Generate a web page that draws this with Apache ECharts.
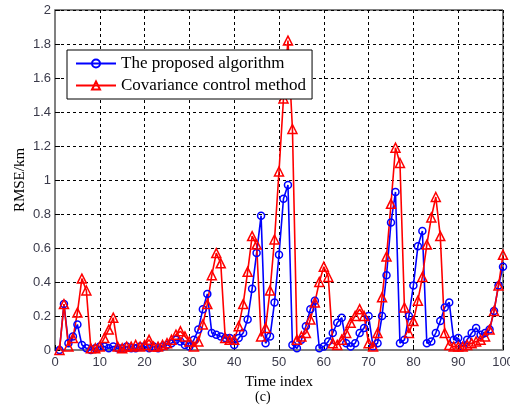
<!DOCTYPE html>
<html>
<head>
<meta charset="utf-8">
<script src="https://cdn.jsdelivr.net/npm/echarts@6/dist/echarts.min.js"></script>
<style>
html,body{margin:0;padding:0;background:#fff;}
#chart{width:510px;height:414px;}
</style>
</head>
<body>
<div id="chart"></div>
<script>
var timeIndex = [1,2,3,4,5,6,7,8,9,10,11,12,13,14,15,16,17,18,19,20,21,22,23,24,25,26,27,28,29,30,31,32,33,34,35,36,37,38,39,40,41,42,43,44,45,46,47,48,49,50,51,52,53,54,55,56,57,58,59,60,61,62,63,64,65,66,67,68,69,70,71,72,73,74,75,76,77,78,79,80,81,82,83,84,85,86,87,88,89,90,91,92,93,94,95,96,97,98,99,100];

var proposed = [0.00,0.27,0.04,0.08,0.15,0.03,0.01,0.00,0.01,0.02,
0.02,0.01,0.02,0.01,0.01,0.02,0.01,0.01,0.02,0.02,
0.01,0.02,0.01,0.02,0.03,0.04,0.06,0.05,0.03,0.02,
0.06,0.12,0.24,0.33,0.10,0.09,0.08,0.07,0.07,0.03,
0.07,0.10,0.18,0.36,0.57,0.79,0.04,0.08,0.28,0.56,
0.89,0.97,0.03,0.01,0.06,0.14,0.24,0.29,0.01,0.02,
0.05,0.10,0.16,0.19,0.04,0.02,0.04,0.10,0.13,0.20,
0.02,0.04,0.20,0.44,0.75,0.93,0.04,0.06,0.20,0.38,
0.61,0.70,0.04,0.05,0.10,0.17,0.25,0.28,0.06,0.07,
0.02,0.06,0.10,0.13,0.09,0.10,0.12,0.23,0.38,0.49];

var covariance = [0.00,0.27,0.02,0.07,0.22,0.42,0.35,0.01,0.01,0.02,
0.07,0.12,0.19,0.02,0.01,0.02,0.02,0.03,0.02,0.03,
0.06,0.02,0.02,0.03,0.04,0.06,0.09,0.11,0.08,0.05,
0.02,0.05,0.15,0.27,0.44,0.57,0.51,0.07,0.06,0.06,
0.14,0.27,0.46,0.67,0.62,0.08,0.13,0.35,0.65,1.05,
1.48,1.82,1.30,0.06,0.08,0.10,0.18,0.28,0.40,0.49,
0.43,0.04,0.03,0.06,0.10,0.16,0.20,0.24,0.20,0.04,
0.02,0.10,0.31,0.55,0.86,1.19,1.10,0.25,0.10,0.17,
0.29,0.43,0.62,0.78,0.90,0.67,0.10,0.03,0.02,0.02,
0.02,0.03,0.04,0.05,0.06,0.08,0.12,0.23,0.38,0.56];

var seriesNames = ['The proposed algorithm', 'Covariance control method'];
var xTicks = [0,10,20,30,40,50,60,70,80,90,100];
var yTicks = [0,0.2,0.4,0.6,0.8,1,1.2,1.4,1.6,1.8,2];

function pairs(xs, ys){ return xs.map(function(x,k){ return [x, ys[k]]; }); }

var chart = echarts.init(document.getElementById('chart'), null, {renderer:'canvas'});
var serif = 'Liberation Serif, Times New Roman, serif';
var sans = 'Liberation Sans, Arial, sans-serif';
var gridLine = {show:true, lineStyle:{color:'#000', type:[3,3], width:1}};

chart.setOption({
  animation:false,
  backgroundColor:'#fff',
  grid:{left:55, right:7, top:10, bottom:64, outerBoundsMode:'none', containLabel:false,
        show:true, borderColor:'#000', borderWidth:1, backgroundColor:'transparent'},
  legend:{
    show:true, orient:'vertical', left:67, top:50,
    data:seriesNames,
    backgroundColor:'#fff', borderColor:'#000', borderWidth:1,
    padding:[5,6,5,8], itemGap:5, itemWidth:40, itemHeight:10,
    textStyle:{fontFamily:serif, fontSize:17, color:'#000'}
  },
  graphic:[{type:'text', left:255, top:390, style:{text:'(c)', font:'14px ' + serif, fill:'#000'}}],
  xAxis:{
    type:'value', min:xTicks[0], max:xTicks[xTicks.length-1], interval:10,
    name:'Time index', nameLocation:'middle', nameGap:25, nameMoveOverlap:false,
    nameTextStyle:{fontFamily:serif, fontSize:15, color:'#000'},
    axisLine:{show:true, onZero:false, lineStyle:{color:'#808080', width:2}},
    axisTick:{show:true, inside:true, length:5, lineStyle:{color:'#000'}},
    axisLabel:{fontFamily:sans, fontSize:13, color:'#3a3a4a', margin:6},
    splitLine:gridLine
  },
  yAxis:{
    type:'value', min:yTicks[0], max:yTicks[yTicks.length-1], interval:0.2,
    name:'RMSE/km', nameLocation:'middle', nameGap:27, nameMoveOverlap:false,
    nameTextStyle:{fontFamily:serif, fontSize:15, color:'#000'},
    axisLine:{show:true, onZero:false, lineStyle:{color:'#808080', width:2}},
    axisTick:{show:true, inside:true, length:5, lineStyle:{color:'#000'}},
    axisLabel:{fontFamily:sans, fontSize:13, color:'#3a3a4a', margin:4},
    splitLine:gridLine
  },
  series:[
    {
      name:seriesNames[0], type:'line', data:pairs(timeIndex, proposed),
      symbol:'circle', symbolSize:7, showAllSymbol:true,
      color:'#0000ff',
      lineStyle:{color:'#0000ff', width:1.6},
      itemStyle:{color:'rgba(255,255,255,0)', borderColor:'#0000ff', borderWidth:1.5}
    },
    {
      name:seriesNames[1], type:'line', data:pairs(timeIndex, covariance),
      symbol:'triangle', symbolSize:9, showAllSymbol:true,
      color:'#ff0000',
      lineStyle:{color:'#ff0000', width:1.6},
      itemStyle:{color:'rgba(255,255,255,0)', borderColor:'#ff0000', borderWidth:1.5}
    }
  ]
});
</script>
</body>
</html>
